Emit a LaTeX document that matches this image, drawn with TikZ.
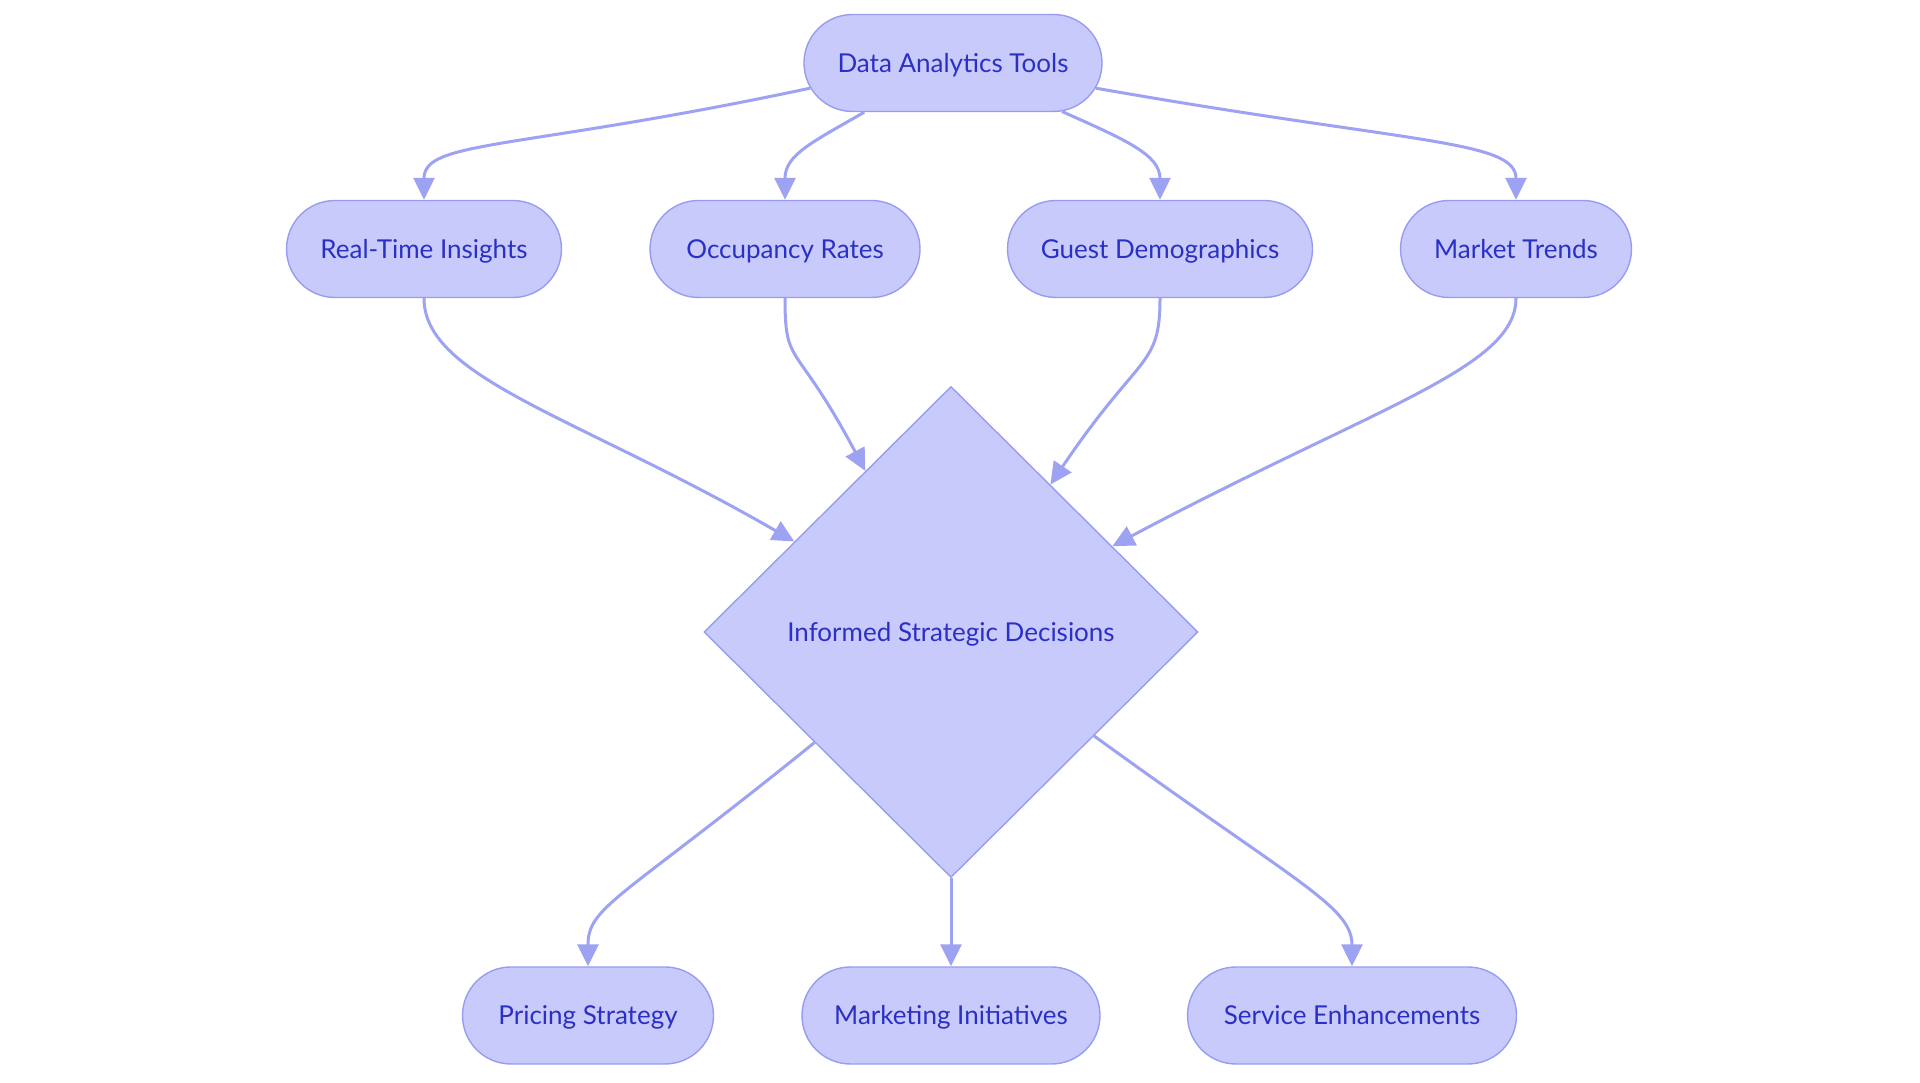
\documentclass[tikz,border=0pt]{standalone}
\usepackage{fontspec}
\setmainfont{Lato}
\usetikzlibrary{shapes.misc,shapes.geometric,arrows.meta}
\definecolor{nfill}{HTML}{C8CAFC}
\definecolor{nline}{HTML}{989CF0}
\definecolor{ntext}{HTML}{2B30C4}
\definecolor{eline}{HTML}{9EA2F2}
\tikzset{
  pill/.style={shape=rounded rectangle, draw=nline, fill=nfill, line width=1.4pt,
    minimum height=97pt, inner sep=0pt, text=ntext, text height=19pt, text depth=0pt,
    font=\fontsize{26}{30}\selectfont},
  deci/.style={shape=diamond, draw=nline, fill=nfill, line width=1.4pt,
    minimum width=494pt, minimum height=491pt, inner sep=0pt, text=ntext,
    text height=19pt, text depth=0pt, font=\fontsize{26}{30}\selectfont},
  conn/.style={draw=eline, line width=3pt, -{Triangle[length=22pt,width=21pt]}}
}
\begin{document}
\begin{tikzpicture}[x=1pt,y=1pt]
\useasboundingbox (0,0) rectangle (1920,1083);
\node[pill, minimum width=298pt] (top) at (953,1020) {Data Analytics Tools};
\node[pill, minimum width=275pt] (rt) at (424,834) {Real-Time Insights};
\node[pill, minimum width=270pt] (occ) at (785,834) {Occupancy Rates};
\node[pill, minimum width=305pt] (guest) at (1160,834) {Guest Demographics};
\node[pill, minimum width=231pt] (mkt) at (1516,834) {Market Trends};
\node[deci] (dec) at (951,451) {Informed Strategic Decisions};
\node[pill, minimum width=251pt] (price) at (588,67.5) {Pricing Strategy};
\node[pill, minimum width=298pt] (mark) at (951,67.5) {Marketing Initiatives};
\node[pill, minimum width=329pt] (serv) at (1352,67.5) {Service Enhancements};

\draw[conn] (top.190) .. controls +(192:300) and +(90:60) .. (rt.north);
\draw[conn] (top.209) .. controls +(210:60) and +(90:45) .. (occ.north);
\draw[conn] (top.336) .. controls +(336:70) and +(90:45) .. (guest.north);
\draw[conn] (top.350) .. controls +(350:320) and +(90:60) .. (mkt.north);
\draw[conn] (rt.south) .. controls +(270:80) and +(150:250) .. (dec.150);
\draw[conn] (occ.south) .. controls +(270:70) and +(118:150) .. (dec.118);
\draw[conn] (guest.south) .. controls +(270:70) and +(56:160) .. (dec.56);
\draw[conn] (mkt.south) .. controls +(270:70) and +(28:300) .. (dec.28);
\draw[conn] (dec.219) .. controls +(219:250) and +(90:60) .. (price.north);
\draw[conn] (dec.south) -- (mark.north);
\draw[conn] (dec.324) .. controls +(324:250) and +(90:60) .. (serv.north);
\end{tikzpicture}
\end{document}
